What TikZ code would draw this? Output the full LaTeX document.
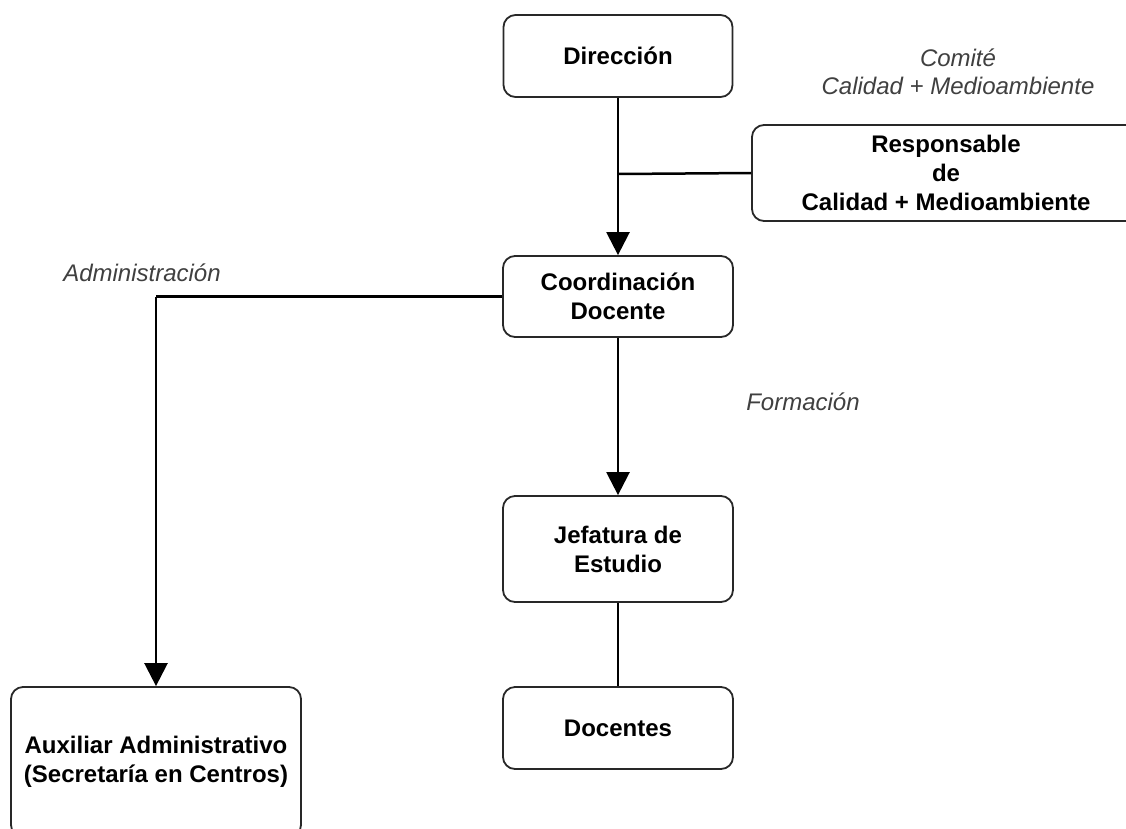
\documentclass[tikz,border=0pt]{standalone}
\usepackage{fontspec}
\setmainfont{Liberation Sans}
\usetikzlibrary{arrows.meta}
\definecolor{lblgray}{RGB}{64,64,64}
\definecolor{boxline}{RGB}{40,40,40}
\begin{document}
\begin{tikzpicture}[x=1pt,y=-1pt,
  box/.style={draw=boxline, line width=1.8pt, rounded corners=12pt, fill=white,
    align=center, font=\fontsize{24}{29}\selectfont\bfseries, inner sep=0pt},
  lbl/.style={text=lblgray, font=\fontsize{24}{29}\selectfont\itshape, inner sep=0pt, align=center},
  conn/.style={line width=2.5pt},
  arr/.style={conn, -{Triangle[length=23pt,width=23pt]}}]
\useasboundingbox (0,0) rectangle (1126,828);
\fill[white] (0,0) rectangle (1126,828);
\node[box, minimum width=229pt, minimum height=82pt] (dir) at (618,56) {Dirección};
\node[box, minimum width=388pt, minimum height=96pt] (resp) at (946,173) {Responsable\\de\\Calidad + Medioambiente};
\node[box, minimum width=230pt, minimum height=81pt] (coord) at (618,296.5) {Coordinación\\Docente};
\node[box, minimum width=230pt, minimum height=106pt] (jef) at (618,549) {Jefatura de\\Estudio};
\node[box, minimum width=230pt, minimum height=82pt] (doc) at (618,728) {Docentes};
\node[box, minimum width=290pt, minimum height=150pt] (aux) at (156,762) {Auxiliar Administrativo\\(Secretaría en Centros)};
\coordinate (j1) at (618,174);
\coordinate (j2) at (156,296.5);
\node[lbl] (l1) at (958,58) {Comité};
\node[lbl] (l2) at (958,86) {Calidad + Medioambiente};
\node[lbl] (l3) at (142,273) {Administración};
\node[lbl] (l4) at (803,402) {Formación};
\draw[arr] (dir.south) -- (coord.north);
\draw[conn] (j1) -- (resp.west);
\draw[conn] (coord.west) -- (j2);
\draw[arr] (j2) -- (aux.north);
\draw[arr] (coord.south) -- (jef.north);
\draw[conn] (jef.south) -- (doc.north);
\end{tikzpicture}
\end{document}
